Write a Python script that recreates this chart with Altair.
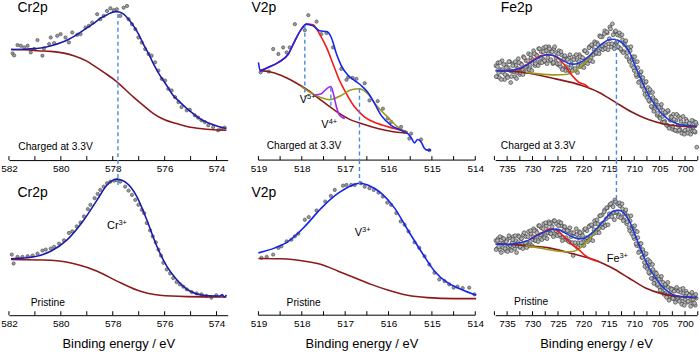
import altair as alt
import pandas as pd

FONT = "Liberation Sans"

# ---------------- Cr 2p ----------------
cr_major = [582, 580, 578, 576, 574]
cr_minor = [581, 579, 577, 575]

cr_c_pts = [(581.86,107.3),(581.80,105.3),(581.67,115.7),(581.54,115),(581.41,113.3),(581.28,115),
            (581.16,108.3),(581.03,111.7),(580.90,120.7),(580.71,105),(580.65,112.3),(580.45,116.7),
            (580.39,123.3),(580.26,117.7),(580.14,125),(580.01,126.7),(579.82,123.3),(579.69,118.3),
            (579.56,128.3),(579.37,126),(579.24,126.7),(579.05,133.3),(578.92,135),(578.79,138.3),
            (578.60,146.7),(578.48,141.7),(578.35,145),(578.22,150),(578.09,152.7),(577.96,150.7),
            (577.84,151.7),(577.71,145),(577.58,153.3),(577.45,155),(577.39,141.7),(577.26,136.7),
            (577.13,131.7),(577.01,123.3),(576.88,118.3),(576.75,111.7),(576.62,106.7),(576.50,105),
            (576.37,98.3),(576.24,90),(576.11,81.7),(575.98,80),(575.86,71.7),(575.73,70),(575.60,63.3),
            (575.47,58.3),(575.35,53.3),(575.15,50),(575.03,50.7),(574.84,45),(574.71,42.7),(574.58,40),
            (574.45,38.3),(574.32,35),(574.13,33.3),(573.94,30),(573.81,31.7),(573.69,32.7)]
cr_c_fit = [(581.92,111.3),(581.3,111.8),(580.77,112.7),(580.3,115.5),(579.75,120.7),(579.4,126),
            (578.98,133.3),(578.7,138),(578.47,142.7),(578.2,146.5),(577.90,149.3),(577.75,149),
            (577.58,146.7),(577.4,142),(577.20,135),(577.0,126.5),(576.82,116.7),(576.6,106),
            (576.43,96.7),(576.2,86),(575.92,75),(575.7,66),(575.41,58.3),(575.15,52),(574.90,46.7),
            (574.6,41),(574.26,36.7),(573.9,33.5),(573.62,31.7)]
cr_c_bg = [(581.92,111.3),(581.2,110.8),(580.9,110),(580.39,109.3),(579.50,105),(579.0,99.5),
           (578.73,95),(578.3,87.5),(577.90,80),(577.20,63.3),(576.8,54.5),(576.43,46.7),(576.0,40.5),
           (575.54,36.7),(575.1,33.5),(574.64,31.7),(574.1,30.5),(573.62,30)]

cr_p_pts = [(581.89,61),(581.82,52),(581.67,58.7),(581.48,58.7),(581.28,59.3),(581.09,60),(580.90,62),
            (580.71,65),(580.58,66),(580.39,67),(580.26,68.7),(580.07,72),(579.88,75.3),(579.69,82.7),
            (579.56,84.3),(579.39,89.3),(579.24,93.3),(579.11,99.3),(578.96,106.7),(578.86,111),
            (578.70,117.7),(578.58,122),(578.48,126),(578.35,129.3),(578.22,132.7),(578.09,134.3),
            (577.94,135.3),(577.84,136),(577.71,134.3),(577.52,129.3),(577.39,125.3),(577.26,121),
            (577.13,116),(577.01,111),(576.88,106),(576.79,102.7),(576.69,92.7),(576.56,85.3),
            (576.46,79.3),(576.34,73.3),(576.24,66),(576.14,60),(576.05,52.7),(575.92,46),(575.79,42),
            (575.67,37.3),(575.54,33.3),(575.41,31),(575.28,28.7),(575.15,26),(574.96,23.3),(574.77,22),
            (574.58,21),(574.39,19.3),(574.20,17.7),(574.01,20)]
cr_p_fit = [(581.92,56.7),(581.03,58.7),(580.39,64.3),(579.75,76),(579.11,96),(578.60,116),(578.22,131),
            (577.84,136.7),(577.45,132.7),(577.07,119.3),(576.69,96),(576.30,69.3),(575.92,49.3),
            (575.54,36),(575.03,24.3),(574.52,20),(574.01,19.3),(573.88,19.3),(573.78,20.7),
            (573.70,18.3),(573.62,20.3)]
cr_p_bg = [(581.92,56),(580.39,55.3),(579.37,51),(578.60,44.3),(577.84,34.3),(577.07,25.3),
           (576.18,20),(575.15,18.7),(573.62,18.3)]

# ---------------- V 2p ----------------
v_major = [519, 518, 517, 516, 515, 514]
v_minor = [518.5, 517.5, 516.5, 515.5, 514.5]
v_axis_span = [(519, 514)]

v_c_pts = [(518.95,88.3),(518.76,89),(518.66,111.7),(518.54,106.7),(518.43,113.3),(518.35,108.3),
           (518.28,113.3),(518.16,136.7),(517.93,130.7),(517.85,145.7),(517.66,139.3),(517.55,126.7),
           (517.43,127.7),(517.28,113.3),(517.09,91.7),(516.97,80.7),(516.93,83.3),(516.83,82.7),
           (516.74,81.7),(516.55,77.3),(516.44,60),(516.25,59.3),(516.13,51.7),(516.02,41.7),
           (515.94,38.3),(515.71,33.3),(515.63,28.3),(515.52,21.7),(515.48,26.7),(515.25,20.7),
           (515.06,10)]
v_c_fit = [(519.00,98.3),(518.96,90),(518.77,93.3),(518.54,98.3),(518.31,106.7),(518.16,120),
           (518.01,131.7),(517.89,136.7),(517.74,135),(517.59,130),(517.43,129.3),(517.32,123.3),
           (517.20,106.7),(517.09,95),(516.93,85),(516.78,80),(516.63,75),(516.48,68.3),(516.32,56.7),
           (516.17,45),(515.94,35),(515.71,30),(515.56,26.7),(515.48,22.7),(515.40,17.3),(515.33,20.7),
           (515.25,18.3),(515.17,11.7),(515.10,10),(515.02,10)]
v_c_v5 = [(518.96,90),(518.77,93.3),(518.54,98.3),(518.31,106.7),(518.16,120),(518.01,131.7),
          (517.89,136.7),(517.74,136),(517.59,126.7),(517.43,113.3),(517.28,96.7),(517.13,80),
          (516.97,66.7),(516.78,53.3),(516.55,43.3),(516.25,36.7),(515.86,31.7),(515.56,28.3)]
v_c_v4 = [(517.70,65.5),(517.55,66.7),(517.43,71.7),(517.33,74),(517.28,68.3),(517.20,53.3),
          (517.13,45),(517.01,41.7)]
v_c_v3 = [(518.01,74),(517.78,67.3),(517.55,62.7),(517.36,60.7),(517.09,65),(516.86,70.7),
          (516.67,71.7),(516.48,66.7),(516.25,53.3),(516.02,43.3),(515.79,33.3),(515.56,27.3)]
v_c_bg = [(518.96,90),(518.77,89),(518.47,85),(518.16,78.3),(517.85,70),(517.55,60),(517.24,50),
          (516.93,41.7),(516.63,36.7),(516.25,31.7),(515.86,28.3),(515.56,27.3)]

v_p_pts = [(518.93,57.7),(518.81,58.7),(518.66,61),(518.54,67.7),(518.47,69.3),(518.35,74.3),
           (518.24,76),(518.16,79.3),(518.08,82),(517.93,96),(517.84,98.7),(517.66,105.3),
           (517.46,114.3),(517.33,120),(517.24,126),(517.05,130.3),(516.97,131),(516.86,131),
           (516.78,131),(516.64,132.7),(516.55,129.3),(516.44,127.7),(516.34,126),(516.23,123.3),
           (516.13,119.3),(516.03,113.3),(515.94,111),(515.82,102.7),(515.72,94.3),(515.63,91),
           (515.54,84.3),(515.40,73.3),(515.29,67.7),(515.17,59.3),(515.06,51),(514.94,42.7),
           (514.83,36),(514.71,34.3),(514.60,31),(514.50,27.7),(514.41,28.7),(514.29,27.3),
           (514.14,27.7),(514.02,21)]
v_p_fit = [(519.0,62.7),(518.62,67.7),(518.31,74.3),(517.93,89.3),(517.55,107.7),(517.16,122.7),
           (516.86,130.3),(516.67,132.7),(516.48,131),(516.17,122.7),(515.86,107.7),(515.56,86),
           (515.25,64.3),(514.94,44.3),(514.64,32.7),(514.33,26),(513.98,20)]
v_p_bg = [(519.0,57),(518.47,56.7),(517.93,54.3),(517.55,51),(517.16,44.3),(516.78,37.7),(516.40,31),
          (516.02,25.3),(515.56,20),(515.10,17.7),(514.48,16.7),(513.98,16.7)]

# ---------------- Fe 2p ----------------
fe_major = [735, 730, 725, 720, 715, 710, 705, 700]
fe_minor = [737.5, 732.5, 727.5, 722.5, 717.5, 712.5, 707.5, 702.5, 697.5]

fe_c_pts = [(737.2,95),(737.0,84),(736.8,98),(736.5,83),(736.3,91),(736.0,100),(735.8,88),(735.5,81),
            (735.3,96),(735.0,85),(734.8,93),(734.5,99),(734.3,78),(734.0,89),(733.8,97),(733.5,84),
            (733.3,95),(733.0,88),(732.8,102),(732.5,86),(732.3,97),(732.0,91),(731.8,104),(731.5,89),
            (731.3,100),(731.0,94),(730.8,107),(730.5,93),(730.3,103),(730.0,97),(729.8,110),(729.5,95),
            (729.3,106),(729.0,99),(728.8,112),(728.5,98),(728.3,109),(728.0,102),(727.8,113),(727.5,99),
            (727.3,110),(727.0,103),(726.8,114),(726.5,100),(726.3,110),(726.0,97),(725.8,112),(725.5,99),
            (725.3,108),(725.0,96),(724.8,110),(724.5,94),(724.3,106),(724.0,92),(723.8,104),(723.5,90),
            (723.3,102),(723.0,93),(722.8,103),(722.5,89),(722.3,100),(722.0,92),(721.8,104),(721.5,90),
            (721.3,101),(721.0,95),(720.8,106),(720.5,94),(720.3,103),(720.0,97),(719.8,110),(719.5,98),
            (719.3,108),(719.0,100),(718.8,114),(718.5,103),(718.3,115),(718.0,106),(717.8,119),(717.5,107),
            (717.3,118),(717.0,110),(716.8,125),(716.5,112),(716.3,124),(716.0,113),(715.8,130),(715.5,116),
            (715.3,128),(715.0,117),(714.8,134),(714.5,114),(714.3,137),(714.0,116),(713.8,129),(713.5,118),
            (713.3,126),(713.0,113),(712.8,125),(712.5,110),(712.3,121),(712.0,109),(711.8,119),(711.5,104),
            (711.3,113),(711.0,101),(710.8,110),(710.5,95),(710.3,104),(710.0,90),(709.8,99),(709.5,84),
            (709.3,93),(709.0,79),(708.8,88),(708.5,74),(708.3,83),(708.0,70),(707.8,78),(707.5,63),
            (707.3,73),(707.0,59),(706.8,68),(706.5,53),(706.3,63),(706.0,51),(705.8,60),(705.5,45),
            (705.3,55),(705.0,43),(704.8,53),(704.5,38),(704.3,50),(704.0,39),(703.8,47),(703.5,35),
            (703.3,49),(703.0,33),(702.8,44),(702.5,31),(702.3,46),(702.0,30),(701.8,40),(701.5,29),
            (701.3,44),(701.0,31),(700.8,39),(700.5,28),(700.3,36),(700.0,30),(699.8,41),(699.5,27),
            (699.3,37),(699.0,31),(698.8,35),(698.5,29),(698.3,39),(698.0,28),(697.8,36),(697.7,13)]
fe_c_pts2 = [(737.15,84),(736.9,94),(736.65,88),(736.4,98),(736.15,81),(735.9,91),(735.65,96),(735.4,86),
             (735.15,93),(734.9,83),(734.65,99),(734.4,90),(734.15,84),(733.9,95),(733.65,89),(733.4,99),
             (733.15,82),(732.9,92),(732.65,98),(732.4,88),(732.15,96),(731.9,86),(731.65,103),(731.4,94),
             (731.15,89),(730.9,100),(730.65,91),(730.4,106),(730.15,90),(729.9,101),(729.65,107),(729.4,97),
             (729.15,105),(728.9,95),(728.65,112),(728.4,103),(728.15,98),(727.9,109),(727.65,100),(727.4,114),
             (727.15,97),(726.9,107),(726.65,112),(726.4,101),(726.15,109),(725.9,98),(725.65,114),(725.4,103),
             (725.15,97),(724.9,107),(724.65,97),(724.4,109),(724.15,91),(723.9,101),(723.65,105),(723.4,94),
             (723.15,101),(722.9,90),(722.65,106),(722.4,96),(722.15,90),(721.9,101),(721.65,92),(721.4,106),
             (721.15,88),(720.9,99),(720.65,104),(720.4,95),(720.15,103),(719.9,93),(719.65,110),(719.4,101),
             (719.15,97),(718.9,113),(718.65,100),(718.4,116),(718.15,99),(717.9,111),(717.65,117),(717.4,108),
             (717.15,116),(716.9,107),(716.65,124),(716.4,115),(716.15,111),(715.9,127),(715.65,112),(715.4,129),
             (715.15,111),(714.9,122),(714.65,132),(714.4,117),(714.15,126),(713.9,112),(713.65,130),(713.4,119),
             (713.15,114),(712.9,128),(712.65,112),(712.4,126),(712.15,108),(711.9,116),(711.65,120),(711.4,108),
             (711.15,113),(710.9,99),(710.65,114),(710.4,101),(710.15,93),(709.9,104),(709.65,86),(709.4,99),
             (709.15,78),(708.9,85),(708.65,89),(708.4,75),(708.15,79),(707.9,66),(707.65,79),(707.4,67),
             (707.15,60),(706.9,71),(706.65,54),(706.4,68),(706.15,49),(705.9,56),(705.65,59),(705.4,47),
             (705.15,53),(704.9,42),(704.65,56),(704.4,44),(704.15,38),(703.9,48),(703.65,35),(703.4,50),
             (703.15,32),(702.9,40),(702.65,43),(702.4,34),(702.15,41),(701.9,30),(701.65,46),(701.4,35),
             (701.15,30),(700.9,42),(700.65,27),(700.4,44),(700.15,26),(699.9,36),(699.65,39),(699.4,31),
             (699.15,37),(698.9,26),(698.65,40),(698.4,33),(698.15,29),(697.9,38)]
fe_c_fit = [(737.3,90),(736,90),(735,90),(734,90.5),(733,91.5),(732,93.3),(731,96),(730,99.5),
            (729,102.5),(728,105),(727,106),(726,105.5),(725,103),(724,100),(723,97.5),(722,96.5),
            (721,97.5),(720,100),(719,104),(718,109),(717,114),(716,118),(715,121),(714,121.5),
            (713,120),(712,116),(711,109),(710,97),(709,85),(708,74),(707,64),(706,56),(705,49),
            (704,44),(703,40),(702,37.5),(701,35.5),(700,35),(699,34.5),(697.7,34)]
fe_c_bg = [(737.22,90),(732.0,88.3),(725.48,81.7),(720.27,75),(717.01,68.3),(713.75,58.3),
           (710.49,48.3),(707.23,40.7),(703.97,36),(700.71,34),(697.7,33.3)]
fe_c_red = [(732.65,90),(730.05,100),(728.09,105.3),(726.79,106),(725.48,104),(723.85,96.7),
            (722.22,85),(720.92,78.3),(719.62,75.7),(719.0,73)]
fe_c_olive = [(731.35,88.3),(728.74,86.7),(725.48,85.7),(723.53,86),(721.57,90),(719.62,98.3),
              (718.31,106.7),(717.6,111)]

fe_p_pts = [(737.2,75),(737.0,67),(736.8,77),(736.5,66),(736.3,73),(736.0,78),(735.8,68),(735.5,74),
            (735.3,65),(735.0,76),(734.8,69),(734.5,78),(734.3,66),(734.0,73),(733.8,79),(733.5,67),
            (733.3,75),(733.0,70),(732.8,80),(732.5,68),(732.3,77),(732.0,72),(731.8,81),(731.5,70),
            (731.3,79),(731.0,73),(730.8,84),(730.5,72),(730.3,82),(730.0,76),(729.8,87),(729.5,75),
            (729.3,85),(729.0,79),(728.8,90),(728.5,78),(728.3,88),(728.0,81),(727.8,92),(727.5,80),
            (727.3,90),(727.0,83),(726.8,94),(726.5,82),(726.3,93),(726.0,85),(725.8,95),(725.5,81),
            (725.3,92),(725.0,84),(724.8,94),(724.5,79),(724.3,90),(724.0,78),(723.8,89),(723.5,76),
            (723.3,86),(723.0,75),(722.8,84),(722.5,73),(722.3,83),(722.0,60),(721.8,82),(721.5,71),
            (721.3,81),(721.0,73),(720.8,84),(720.5,70),(720.3,82),(720.0,74),(719.8,86),(719.5,76),
            (719.3,85),(719.0,77),(718.8,90),(718.5,80),(718.3,90),(718.0,82),(717.8,95),(717.5,85),
            (717.3,96),(717.0,87),(716.8,100),(716.5,90),(716.3,101),(716.0,93),(715.8,106),(715.5,97),
            (715.3,108),(715.0,99),(714.8,111),(714.5,101),(714.3,113),(714.0,103),(713.8,116),(713.5,103),
            (713.3,112),(713.0,101),(712.8,110),(712.5,99),(712.3,107),(712.0,96),(711.8,104),(711.5,92),
            (711.3,100),(711.0,88),(710.8,95),(710.5,82),(710.3,89),(710.0,77),(709.8,85),(709.5,70),
            (709.3,78),(709.0,64),(708.8,72),(708.5,58),(708.3,66),(708.0,53),(707.8,61),(707.5,47),
            (707.3,56),(707.0,42),(706.8,51),(706.5,37),(706.3,46),(706.0,35),(705.8,43),(705.5,30),
            (705.3,39),(705.0,28),(704.8,36),(704.5,24),(704.3,33),(704.0,22),(703.8,30),(703.5,20),
            (703.3,28),(703.0,19),(702.8,27),(702.5,17),(702.3,26),(702.0,16),(701.8,25),(701.5,16),
            (701.3,24),(701.0,15),(700.8,23),(700.5,14),(700.3,22),(700.0,16),(699.8,24),(699.5,13),
            (699.3,21),(699.0,15),(698.8,20),(698.5,12),(698.3,19),(698.0,10),(697.8,17)]
fe_p_pts2 = [(737.15,66),(736.9,75),(736.65,69),(736.4,79),(736.15,63),(735.9,72),(735.65,77),(735.4,67),
             (735.15,74),(734.9,64),(734.65,80),(734.4,70),(734.15,65),(733.9,76),(733.65,70),(733.4,80),
             (733.15,63),(732.9,73),(732.65,79),(732.4,69),(732.15,77),(731.9,67),(731.65,83),(731.4,73),
             (731.15,68),(730.9,79),(730.65,70),(730.4,85),(730.15,70),(729.9,79),(729.65,85),(729.4,75),
             (729.15,83),(728.9,74),(728.65,90),(728.4,81),(728.15,76),(727.9,87),(727.65,78),(727.4,93),
             (727.15,77),(726.9,86),(726.65,92),(726.4,82),(726.15,89),(725.9,79),(725.65,95),(725.4,85),
             (725.15,80),(724.9,90),(724.65,81),(724.4,93),(724.15,75),(723.9,85),(723.65,89),(723.4,78),
             (723.15,85),(722.9,74),(722.65,88),(722.4,79),(722.15,73),(721.9,83),(721.65,73),(721.4,87),
             (721.15,68),(720.9,78),(720.65,83),(720.4,73),(720.15,80),(719.9,70),(719.65,87),(719.4,78),
             (719.15,74),(718.9,89),(718.65,76),(718.4,91),(718.15,75),(717.9,86),(717.65,92),(717.4,83),
             (717.15,92),(716.9,83),(716.65,100),(716.4,92),(716.15,88),(715.9,104),(715.65,90),(715.4,108),
             (715.15,91),(714.9,102),(714.65,112),(714.4,99),(714.15,109),(713.9,96),(713.65,114),(713.4,104),
             (713.15,99),(712.9,113),(712.65,98),(712.4,112),(712.15,95),(711.9,102),(711.65,106),(711.4,94),
             (711.15,99),(710.9,85),(710.65,100),(710.4,87),(710.15,79),(709.9,90),(709.65,72),(709.4,84),
             (709.15,63),(708.9,69),(708.65,72),(708.4,58),(708.15,63),(707.9,49),(707.65,62),(707.4,50),
             (707.15,43),(706.9,54),(706.65,37),(706.4,51),(706.15,32),(705.9,39),(705.65,42),(705.4,31),
             (705.15,36),(704.9,25),(704.65,39),(704.4,28),(704.15,21),(703.9,31),(703.65,18),(703.4,33),
             (703.15,15),(702.9,23),(702.65,26),(702.4,17),(702.15,24),(701.9,13),(701.65,28),(701.4,18),
             (701.15,14),(700.9,26),(700.65,11),(700.4,27),(700.15,10),(699.9,19),(699.65,22),(699.4,14),
             (699.15,20),(698.9,9),(698.65,23),(698.4,16),(698.15,12),(697.9,21)]
fe_p_fit = [(737.3,71.5),(736,71.5),(735,71),(734,71.5),(733,72.5),(732,73.3),(731,75),(730,77.5),
            (729,80.5),(728,83),(727,85),(726,86.5),(725,86.3),(724,84),(723,81),(722,78.5),(721,77),
            (720,77),(719,80),(718,84),(717,89.3),(716,95),(715,101),(714,105),(713,105.5),(712,102.5),
            (711,95),(710,83),(709,70),(708,57.5),(707,47),(706,39),(705,32),(704,26.5),(703,22.5),
            (702,20),(701,19),(700,18.5),(699,18),(697.7,17.7)]
fe_p_bg = [(736.89,71.7),(732.0,70.3),(726.79,67.7),(722.22,62),(717.66,55.3),(714.40,47.7),
           (711.14,37.7),(707.88,27.7),(704.62,21.7),(701.36,18.7),(697.7,17.7)]
fe_p_red = [(730.7,76),(728.09,83.3),(726.46,86.7),(725.48,86),(723.85,79.3),(722.22,71),
            (720.92,66),(719.62,60),(718.31,56),(717.01,54.3)]
fe_p_olive = [(731.35,70),(728.74,67.7),(726.13,65.3),(723.53,63.7),(721.9,64.3),(720.59,67.7),
              (718.96,76),(717.66,84.3),(716.68,89.3)]

# dashed marker lines: (energy, from, to)
cr_c_dash = [(577.8, 147, 0)]
cr_p_dash = [(577.8, 156, 128)]
v_c_dash = [(517.93, 135, 63.3), (517.33, 72.7, 53.3), (516.67, 71.7, 0)]
v_p_dash = [(516.67, 156, 132)]
fe_c_dash = [(713.5, 121.7, 0)]
fe_p_dash = [(713.5, 156, 111)]

# text annotations: (energy, intensity, text, font size)
cr_c_txt = [(581.67, 152.5, "Cr2p", 14), (581.64, 13.3, "Charged at 3.3V", 10.3)]
cr_p_txt = [(581.67, 123.3, "Cr2p", 14), (578.22, 89.3, "Cr", 11), (577.78, 92.5, "3+", 7.5),
            (581.16, 12.7, "Pristine", 10.3)]
v_c_txt = [(519.16, 152.7, "V2p", 14), (518.05, 60, "V", 11), (517.88, 63.2, "5+", 7.5),
           (517.55, 35, "V", 11), (517.38, 38.2, "4+", 7.5), (518.81, 14, "Charged at 3.3V", 10.3)]
v_p_txt = [(519.16, 122.7, "V2p", 14), (516.78, 82.7, "V", 11), (516.61, 85.9, "3+", 7.5),
           (518.35, 12.7, "Pristine", 10.3)]
fe_c_txt = [(736.23, 152.7, "Fe2p", 14), (736.23, 14, "Charged at 3.3V", 10.3)]
fe_p_txt = [(715.39, 56.7, "Fe", 11), (712.9, 59.9, "3+", 7.5), (733.63, 13.3, "Pristine", 10.3)]

BG = "#8b1a1a"
RED = "#f21818"
OLIVE = "#9c9a1e"
PURPLE = "#a026f2"
DASH = "#4a88e0"
BLUE_CR = "#1c1caa"
BLUE_V = "#1424ee"
BLUE_FE = "#1c38d8"


def pairs(p, cols=("E", "I")):
    return pd.DataFrame(p, columns=list(cols))


def panel(width, height, xdom, major, minor, ymax, pts, fe_style, curves, dashes, texts, title,
          axis_span=None):
    xs = alt.Scale(domain=xdom, reverse=True, nice=False, zero=False)
    ys = alt.Scale(domain=[0, ymax], nice=False, zero=False)
    ax = alt.Axis(values=major, format="d", ticks=False, grid=False, domain=axis_span is None,
                  domainColor="#000", domainWidth=1,
                  labelFont=FONT, labelFontSize=10, labelColor="#000", labelPadding=3, labelFlush=False,
                  labelOverlap=False, title=title, titleFont=FONT, titleFontSize=13,
                  titleFontWeight="normal", titleColor="#000", titlePadding=9)
    X = alt.X("E:Q", scale=xs, axis=ax)
    Y = alt.Y("I:Q", scale=ys, axis=None)
    layers = []
    if axis_span is not None:
        adf = pairs(axis_span, ("E", "E2"))
        layers.append(alt.Chart(adf).mark_rule(color="#000", strokeWidth=1).encode(
            x=X, x2="E2:Q", y=alt.value(height)))
    tdf = pd.DataFrame({"E": major + minor})
    layers.append(alt.Chart(tdf).mark_rule(color="#000", strokeWidth=1).encode(
        x=X, y=alt.value(height), y2=alt.value(height - 4)))
    for p in pts:
        if fe_style:
            pm = alt.Chart(pairs(p)).mark_circle(size=15, color="#b4b4b4", stroke="#333333",
                                                  strokeWidth=0.6, opacity=1)
        else:
            pm = alt.Chart(pairs(p)).mark_circle(size=11, color="#9a9a9a", stroke="#444",
                                                  strokeWidth=0.6, opacity=1)
        layers.append(pm.encode(x=X, y=Y))
    for data, color in curves:
        layers.append(alt.Chart(pairs(data)).mark_line(color=color, strokeWidth=1.6,
                                                       interpolate="monotone").encode(x=X, y=Y))
    ddf = pairs(dashes, ("E", "I", "I2"))
    layers.append(alt.Chart(ddf).mark_rule(color=DASH, strokeWidth=1.4, strokeDash=[4, 3]).encode(
        x=X, y=Y, y2="I2:Q"))
    txt = pairs(texts, ("E", "I", "t", "fs"))
    layers.append(alt.Chart(txt).mark_text(align="left", baseline="middle", font=FONT, color="#000").encode(
        x=X, y=Y, text="t:N", size=alt.Size("fs:Q", scale=None, legend=None)))
    return alt.layer(*layers).properties(width=width, height=height)


TOP_H, BOT_H = 160, 139
CR_DOM, V_DOM, FE_DOM = [573.57, 582], [514, 519.25], [697.65, 737.35]
TITLE = "Binding energy / eV"

cr_top = panel(220, TOP_H, CR_DOM, cr_major, cr_minor, TOP_H, [cr_c_pts], False,
               [(cr_c_bg, BG), (cr_c_fit, BLUE_CR)], cr_c_dash, cr_c_txt, None)
cr_bot = panel(220, BOT_H, CR_DOM, cr_major, cr_minor, BOT_H, [cr_p_pts], False,
               [(cr_p_bg, BG), (cr_p_fit, BLUE_CR)], cr_p_dash, cr_p_txt, TITLE)
v_top = panel(229, TOP_H, V_DOM, v_major, v_minor, TOP_H, [v_c_pts], False,
              [(v_c_bg, BG), (v_c_v5, RED), (v_c_v3, OLIVE), (v_c_v4, PURPLE), (v_c_fit, BLUE_V)],
              v_c_dash, v_c_txt, None, axis_span=v_axis_span)
v_bot = panel(229, BOT_H, V_DOM, v_major, v_minor, BOT_H, [v_p_pts], False,
              [(v_p_bg, BG), (v_p_fit, BLUE_V)], v_p_dash, v_p_txt, TITLE, axis_span=v_axis_span)
fe_top = panel(203, TOP_H, FE_DOM, fe_major, fe_minor, TOP_H, [fe_c_pts, fe_c_pts2], True,
               [(fe_c_bg, BG), (fe_c_olive, OLIVE), (fe_c_red, RED), (fe_c_fit, BLUE_FE)],
               fe_c_dash, fe_c_txt, None)
fe_bot = panel(203, BOT_H, FE_DOM, fe_major, fe_minor, BOT_H, [fe_p_pts, fe_p_pts2], True,
               [(fe_p_bg, BG), (fe_p_olive, OLIVE), (fe_p_red, RED), (fe_p_fit, BLUE_FE)],
               fe_p_dash, fe_p_txt, TITLE)

chart = alt.concat(
    cr_top, v_top, fe_top, cr_bot, v_bot, fe_bot,
    columns=3, spacing=alt.RowColnumber(row=17, column=20), bounds="flush", align="each"
).properties(padding=0, background="white").configure_view(stroke=None)

chart.save("out.html", embed_options={"renderer": "svg", "actions": False})
